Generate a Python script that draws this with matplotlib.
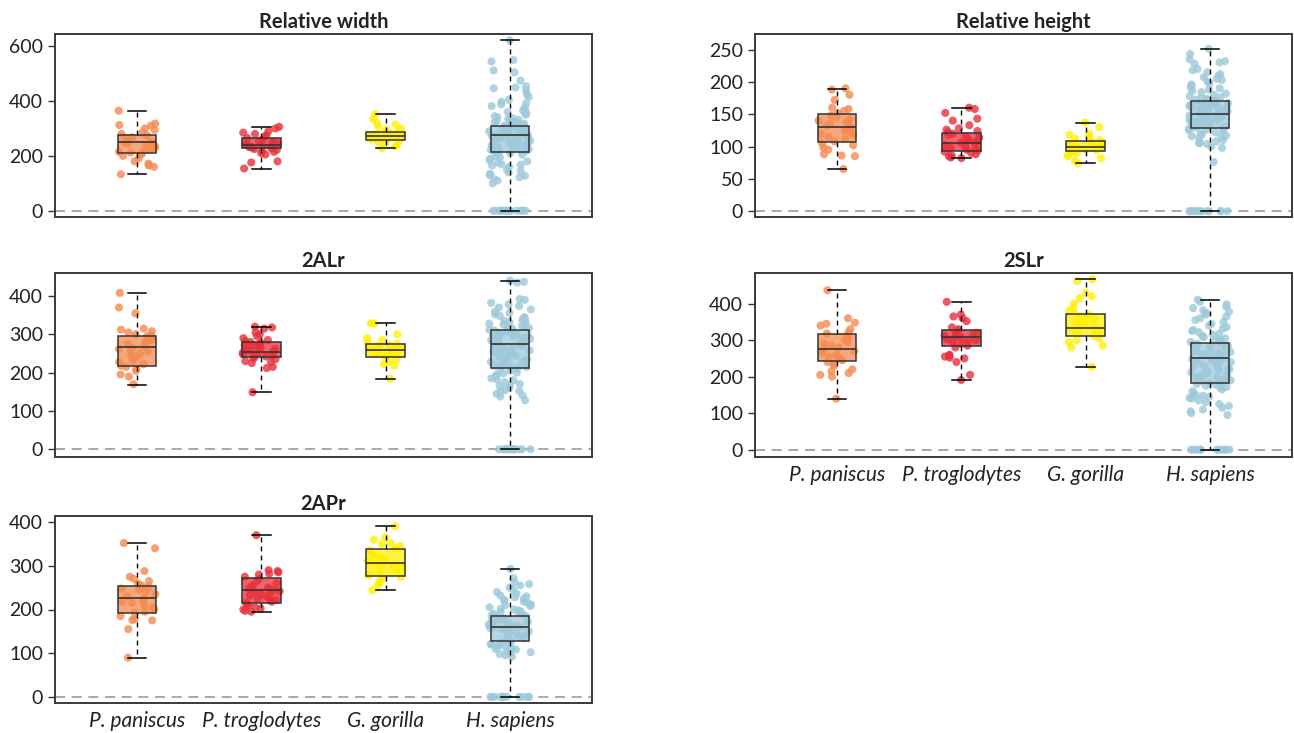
import matplotlib
matplotlib.use("Agg")
import matplotlib.pyplot as plt
import numpy as np

plt.rcParams['font.family'] = ['Lato', 'DejaVu Sans']

categories = ["P. paniscus", "P. troglodytes", "G. gorilla", "H. sapiens"]
colors = ["#F58A50", "#E8303B", "#FFF000", "#9DC9DA"]
titles = ["Relative width", "Relative height", "2ALr", "2SLr", "2APr"]
yticks = [[0, 200, 400, 600], [0, 50, 100, 150, 200, 250], [0, 100, 200, 300, 400],
          [0, 100, 200, 300, 400], [0, 100, 200, 300, 400]]

# box statistics per panel: [paniscus, troglodytes, gorilla, sapiens]
whislo = [[133, 154, 228, 0], [65, 83, 75, 0], [169, 149, 184, 0], [140, 191, 227, 0], [90, 195, 244, 0]]
q1 = [[212, 228, 257, 216], [107, 93, 93, 128], [218, 242, 242, 211], [242, 285, 312, 182], [192, 215, 276, 129]]
med = [[250, 239, 273, 276], [130, 106, 100, 151], [266, 255, 260, 276], [277, 309, 333, 250], [226, 244, 306, 159]]
q3 = [[277, 265, 289, 310], [150, 121, 108, 170], [295, 281, 274, 311], [318, 328, 373, 293], [253, 271, 339, 186]]
whishi = [[365, 306, 352, 622], [189, 160, 137, 251], [408, 319, 329, 440], [437, 405, 467, 411], [353, 371, 390, 293]]

# ---- individual observations ----
width_pan = [365, 318, 313, 310, 300, 295, 285, 280, 275, 268, 262, 255, 250, 248, 245, 240, 235, 230,
             225, 220, 215, 212, 208, 205, 200, 190, 180, 172, 165, 160, 133]
width_tro = [306, 300, 290, 285, 280, 275, 270, 265, 260, 255, 250, 248, 245, 242, 240, 238, 236, 234,
             232, 230, 228, 225, 222, 218, 215, 210, 205, 180, 176, 154]
width_gor = [352, 335, 320, 315, 305, 300, 295, 290, 285, 283, 280, 278, 275, 272, 270, 268, 265, 262,
             260, 258, 255, 250, 245, 240, 235, 228]
width_sap = [0] * 14 + [622, 550, 545, 512, 505, 475, 455, 450, 447, 438, 425, 415, 405, 398, 392, 388, 382,
             375, 370, 365, 360, 355, 350, 345, 342, 338, 335, 332, 330, 328, 325, 322, 320, 318, 316, 314,
             312, 310, 308, 306, 304, 302, 300, 298, 296, 294, 292, 290, 288, 286, 284, 282, 280, 278, 277,
             276, 275, 274, 272, 270, 268, 266, 264, 262, 260, 258, 255, 252, 250, 248, 245, 242, 240, 238,
             235, 232, 230, 228, 225, 222, 220, 218, 216, 214, 212, 210, 205, 200, 195, 190, 185, 180, 175,
             170, 168, 165, 160, 150, 145, 140, 135, 130, 128, 122, 115, 110, 100]

height_pan = [190, 188, 180, 172, 160, 158, 155, 152, 148, 145, 142, 140, 138, 135, 132, 130, 128, 125,
              122, 120, 118, 115, 112, 108, 105, 102, 98, 95, 88, 86, 85, 65]
height_tro = [160, 158, 152, 143, 140, 133, 128, 126, 124, 122, 120, 118, 116, 114, 112, 110, 108, 106,
              105, 104, 102, 100, 98, 96, 95, 94, 92, 90, 88, 86, 85, 83, 82]
height_gor = [137, 130, 120, 118, 115, 112, 110, 108, 106, 104, 102, 100, 99, 98, 96, 95, 94, 92, 90,
              88, 85, 82, 78, 74]
height_sap = [0] * 12 + [251, 243, 235, 232, 230, 228, 220, 218, 215, 212, 210, 207, 205, 203, 200, 198,
              196, 194, 192, 190, 188, 186, 184, 182, 180, 178, 176, 175, 174, 173, 172, 171, 170, 169,
              168, 167, 166, 165, 164, 163, 162, 161, 160, 159, 158, 157, 156, 155, 154, 153, 152, 151,
              150, 149, 148, 147, 146, 145, 144, 143, 142, 141, 140, 139, 138, 137, 136, 135, 134, 133,
              132, 131, 130, 129, 128, 127, 126, 125, 124, 122, 120, 118, 117, 116, 115, 113, 110, 108,
              106, 105, 104, 100, 98, 76]

al_pan = [408, 370, 355, 315, 312, 308, 305, 300, 298, 295, 290, 285, 280, 275, 270, 265, 262, 258, 255,
          250, 245, 240, 232, 228, 222, 218, 215, 210, 205, 195, 190, 170]
al_tro = [320, 318, 315, 305, 300, 295, 290, 285, 282, 280, 278, 275, 272, 270, 268, 265, 262, 260, 258,
          255, 252, 250, 248, 245, 242, 240, 238, 235, 230, 228, 225, 215, 212, 149]
al_gor = [329, 328, 300, 290, 285, 280, 275, 272, 270, 268, 265, 262, 260, 258, 255, 252, 250, 248, 245,
          240, 235, 228, 222, 218, 184]
al_sap = [0] * 12 + [440, 437, 435, 392, 390, 382, 378, 374, 370, 365, 360, 356, 352, 348, 345, 342, 340,
          338, 335, 332, 330, 328, 325, 322, 320, 318, 316, 314, 312, 310, 308, 306, 304, 302, 300, 298,
          296, 294, 292, 290, 288, 286, 284, 282, 280, 278, 276, 274, 272, 270, 268, 265, 262, 260, 258,
          255, 252, 250, 248, 245, 242, 240, 238, 235, 232, 230, 228, 225, 222, 220, 218, 215, 212, 210,
          205, 200, 198, 195, 190, 185, 182, 180, 175, 170, 168, 165, 160, 155, 152, 150, 145, 140, 138, 128]

sl_pan = [437, 360, 348, 345, 340, 330, 322, 318, 312, 305, 300, 295, 290, 285, 280, 275, 270, 265, 260,
          255, 250, 245, 240, 235, 230, 220, 215, 210, 205, 200, 140]
sl_tro = [405, 370, 365, 360, 352, 335, 330, 325, 320, 318, 315, 312, 310, 308, 305, 302, 300, 298, 295,
          290, 285, 280, 260, 258, 255, 252, 250, 240, 205, 191]
sl_gor = [467, 462, 430, 420, 415, 400, 390, 380, 375, 370, 365, 360, 355, 350, 345, 340, 335, 332, 330,
          325, 320, 315, 312, 305, 300, 295, 285, 280, 227]
sl_sap = [0] * 12 + [411, 405, 398, 392, 388, 382, 378, 375, 370, 365, 360, 355, 350, 345, 340, 336, 332,
          328, 325, 322, 318, 315, 312, 308, 305, 302, 300, 298, 295, 292, 290, 288, 285, 282, 280, 278,
          275, 272, 270, 268, 265, 262, 260, 258, 255, 252, 250, 248, 245, 242, 240, 238, 235, 232, 230,
          228, 225, 222, 220, 218, 215, 212, 210, 208, 205, 202, 200, 198, 195, 192, 190, 188, 185, 182,
          180, 178, 175, 172, 170, 165, 160, 155, 150, 148, 145, 142, 140, 135, 130, 125, 120, 115, 110,
          105, 100, 95]

ap_pan = [352, 340, 288, 275, 270, 265, 260, 255, 252, 248, 245, 240, 235, 230, 225, 222, 218, 215, 210,
          205, 200, 195, 192, 185, 178, 176, 175, 155, 90]
ap_tro = [370, 290, 288, 285, 282, 280, 275, 270, 265, 260, 255, 252, 250, 248, 245, 242, 240, 238, 235,
          232, 230, 225, 222, 220, 218, 215, 212, 210, 205, 202, 200, 197, 195]
ap_gor = [390, 365, 360, 352, 350, 345, 340, 338, 335, 330, 325, 320, 315, 310, 308, 305, 300, 298, 295,
          290, 285, 280, 278, 275, 270, 265, 260, 255, 244]
ap_sap = [0] * 12 + [293, 272, 262, 258, 255, 250, 245, 240, 236, 232, 230, 228, 225, 222, 220, 218, 215,
          212, 210, 208, 205, 202, 200, 198, 196, 194, 192, 190, 188, 186, 184, 182, 180, 178, 176, 174,
          172, 170, 168, 166, 164, 162, 160, 159, 158, 156, 154, 152, 150, 148, 146, 144, 142, 140, 138,
          136, 134, 132, 130, 128, 126, 124, 122, 120, 118, 116, 114, 112, 110, 108, 105, 102, 100, 98, 95, 92]

points = [[width_pan, width_tro, width_gor, width_sap],
          [height_pan, height_tro, height_gor, height_sap],
          [al_pan, al_tro, al_gor, al_sap],
          [sl_pan, sl_tro, sl_gor, sl_sap],
          [ap_pan, ap_tro, ap_gor, ap_sap]]

ylims = [(-23, 645), (-9, 274), (-20, 460), (-20, 484), (-14, 414)]

W, H = 1294, 733
fig = plt.figure(figsize=(W / 100, H / 100), dpi=100)


def frac_axes(x0, y0, x1, y1):
    return fig.add_axes([x0 / W, 1 - y1 / H, (x1 - x0) / W, (y1 - y0) / H])


boxes_px = [(55, 34, 592, 217), (755, 34, 1292, 217),
            (55, 273, 592, 457), (755, 273, 1292, 457),
            (55, 516, 592, 703)]

positions = np.arange(1, 5)
edge = "#333333"
for p in range(5):
    ax = frac_axes(*boxes_px[p])
    for g in range(4):
        vals = np.asarray(points[p][g], dtype=float)
        n = len(vals)
        spread = 0.17 if g == 3 else 0.15
        idx = np.arange(n) + 17 * g + 101 * p
        # deterministic horizontal offsets (positions only, not data)
        h = np.sin(idx * 12.9898 + 4.1414) * 43758.5453
        jit = ((h - np.floor(h)) - 0.5) * 2 * spread
        ax.scatter(positions[g] + jit, vals, s=34, color=colors[g], alpha=0.8,
                   edgecolors="none", zorder=2)
    stats = []
    for g in range(4):
        stats.append(dict(whislo=whislo[p][g], q1=q1[p][g], med=med[p][g], q3=q3[p][g],
                          whishi=whishi[p][g], fliers=[]))
    bp = ax.bxp(stats, positions=positions, widths=0.31, patch_artist=True, showfliers=False,
                boxprops=dict(edgecolor=edge, linewidth=1.1),
                medianprops=dict(color=edge, linewidth=1.2),
                whiskerprops=dict(color="black", linestyle=(0, (3.5, 3)), linewidth=1.0),
                capprops=dict(color="black", linewidth=1.1),
                capwidths=0.15, zorder=3)
    for g, patch in enumerate(bp["boxes"]):
        patch.set_facecolor(matplotlib.colors.to_rgba(colors[g], 0.75))
    ax.axhline(0, color="#9a9a9a", linestyle=(0, (6, 4)), linewidth=1.2, zorder=1)
    ax.set_xlim(0.34, 4.66)
    ax.set_ylim(*ylims[p])
    ax.set_yticks(yticks[p])
    ax.tick_params(axis="y", labelsize=14, length=5, width=1, colors="#333333", labelcolor="#222222")
    if p in (3, 4):
        ax.set_xticks(positions)
        ax.set_xticklabels(categories, fontstyle="italic", fontsize=15, color="#222222")
        ax.tick_params(axis="x", length=0, pad=6)
    else:
        ax.set_xticks([])
    for s in ax.spines.values():
        s.set_color("#3a3a3a")
        s.set_linewidth(1.4)
    ax.set_title(titles[p], fontsize=14.5, fontweight="bold", color="#222222", pad=4)

fig.savefig("out.png", dpi=100)
